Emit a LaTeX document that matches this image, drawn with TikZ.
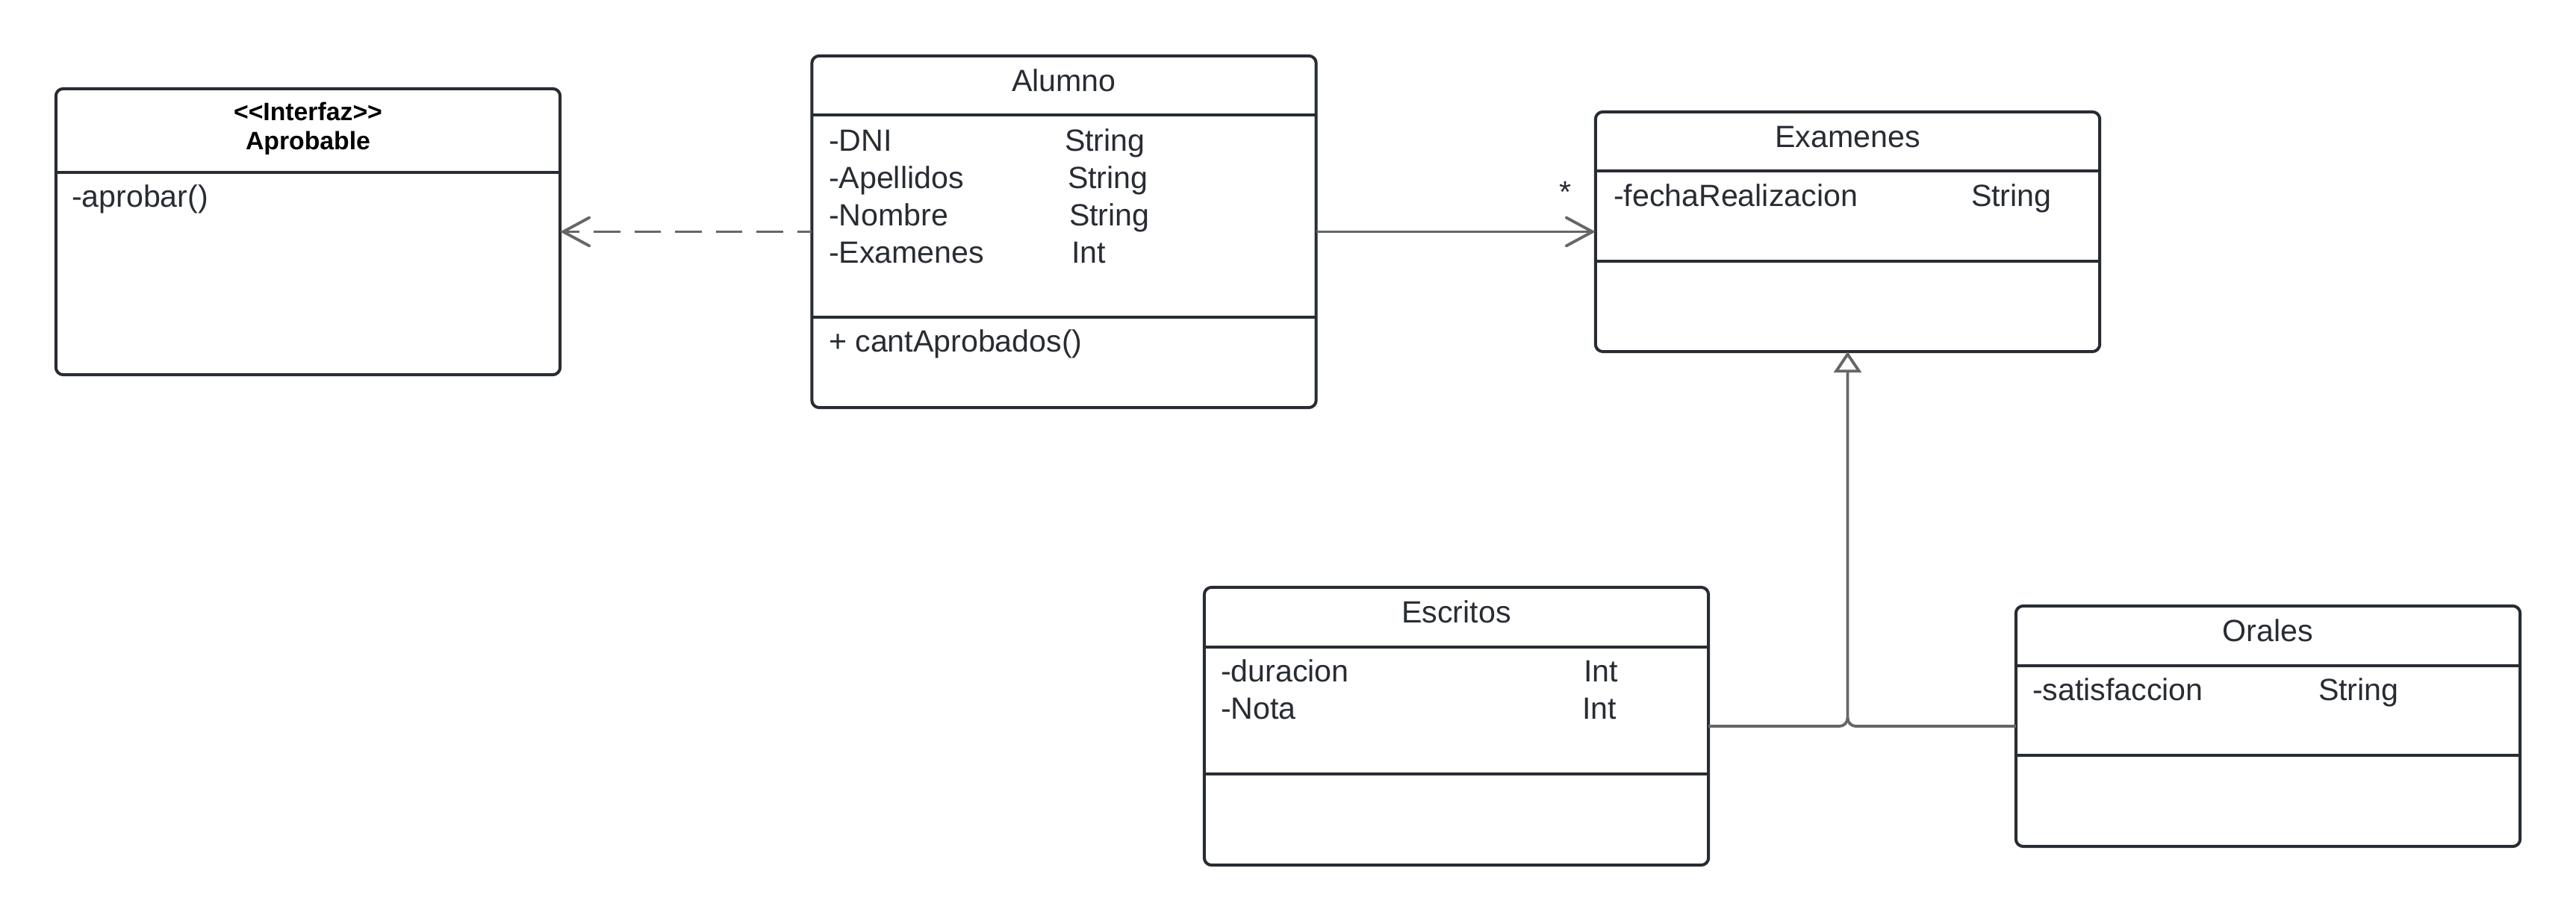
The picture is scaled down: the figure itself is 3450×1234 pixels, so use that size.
\documentclass[tikz,border=0pt]{standalone}
\usepackage{fontspec}
\setmainfont{Liberation Sans}
\usetikzlibrary{arrows.meta,calc}

\definecolor{boxline}{HTML}{282C33}
\definecolor{textcol}{HTML}{282C33}
\definecolor{connline}{HTML}{666666}

\tikzset{
  classbox/.style={draw=boxline, line width=1.14pt, rounded corners=2.8pt,
    fill=white, inner sep=0pt, outer sep=0pt, minimum width=6.75cm},
  divider/.style={draw=boxline, line width=1.14pt},
  txt/.style={inner sep=0pt, outer sep=0pt, text=textcol,
    font=\fontsize{11.7pt}{14pt}\selectfont},
  attr/.style={txt, anchor=base west},
  ctitle/.style={txt, anchor=base},
  stereo/.style={inner sep=0pt, outer sep=0pt, text=black, anchor=base,
    font=\fontsize{9.6pt}{12pt}\selectfont\bfseries},
  conn/.style={draw=connline, line width=1.1pt},
  openarrow/.style={-{Straight Barb[length=10pt, width=10.8pt, line cap=round]}},
  inherit/.style={-{Triangle[open, length=8pt, width=10.5pt, fill=white]}},
}

\begin{document}
\begin{tikzpicture}[x=0.01cm, y=-0.01cm]
  \useasboundingbox (0,0) rectangle (3450,1234);

  % ---- class boxes ----
  \node[classbox, minimum height=3.83cm] (aprobable) at (412.5,310.5) {};
  \node[classbox, minimum height=4.71cm] (alumno)    at (1425,310.5) {};
  \node[classbox, minimum height=3.21cm] (examenes)  at (2474.5,310.5) {};
  \node[classbox, minimum height=3.72cm] (escritos)  at (1950.5,973) {};
  \node[classbox, minimum height=3.22cm] (orales)    at (3037.5,973) {};

  % ---- compartment separators ----
  \draw[divider] (aprobable.west |- 0,231) -- (aprobable.east |- 0,231);
  \draw[divider] (alumno.west |- 0,154) -- (alumno.east |- 0,154);
  \draw[divider] (alumno.west |- 0,425) -- (alumno.east |- 0,425);
  \draw[divider] (examenes.west |- 0,229) -- (examenes.east |- 0,229);
  \draw[divider] (examenes.west |- 0,350) -- (examenes.east |- 0,350);
  \draw[divider] (escritos.west |- 0,867) -- (escritos.east |- 0,867);
  \draw[divider] (escritos.west |- 0,1037) -- (escritos.east |- 0,1037);
  \draw[divider] (orales.west |- 0,892) -- (orales.east |- 0,892);
  \draw[divider] (orales.west |- 0,1012) -- (orales.east |- 0,1012);

  % ---- Aprobable ----
  \node[stereo] (apr-st) at (412.5,162) {<\kern0pt<Interfaz>\kern0pt>};
  \node[stereo] (apr-name) at (412.5,201) {Aprobable};
  \node[attr] (apr-m1) at (96,278) {-aprobar()};

  % ---- Alumno ----
  \node[ctitle] (alu-name) at (1425,123) {Alumno};
  \node[attr] (alu-a1) at (1110,203) {-DNI};
  \node[attr] (alu-a2) at (1110,253) {-Apellidos};
  \node[attr] (alu-a3) at (1110,303) {-Nombre};
  \node[attr] (alu-a4) at (1110,353) {-Examenes};
  \node[attr] (alu-t1) at (1426,203) {String};
  \node[attr] (alu-t2) at (1430,253) {String};
  \node[attr] (alu-t3) at (1432,303) {String};
  \node[attr] (alu-t4) at (1435,353) {Int};
  \node[attr] (alu-m1) at (1110,472) {+ cantAprobados()};

  % ---- Examenes ----
  \node[ctitle] (exa-name) at (2474.5,198) {Examenes};
  \node[attr] (exa-a1) at (2161,277) {-fechaRealizacion};
  \node[attr] (exa-t1) at (2640,277) {String};

  % ---- Escritos ----
  \node[ctitle] (esc-name) at (1950.5,835) {Escritos};
  \node[attr] (esc-a1) at (1635,914) {-duracion};
  \node[attr] (esc-a2) at (1635,964) {-Nota};
  \node[attr] (esc-t1) at (2121,914) {Int};
  \node[attr] (esc-t2) at (2119,964) {Int};

  % ---- Orales ----
  \node[ctitle] (ora-name) at (3037.5,860) {Orales};
  \node[attr] (ora-a1) at (2722,939) {-satisfaccion};
  \node[attr] (ora-t1) at (3105,939) {String};

  % ---- relations ----
  % realization: Alumno implements Aprobable
  \draw[conn, openarrow, dash pattern=on 10.2pt off 5.3pt, dash phase=4.6pt]
    (alumno.west) -- (aprobable.east);
  % association Alumno -> Examenes with multiplicity
  \draw[conn, openarrow] (alumno.east) -- (examenes.west);
  \node[txt, anchor=center] (mult) at (2096,257) {*};
  % generalization Escritos / Orales -> Examenes
  \coordinate (joint) at (escritos.east -| examenes.south);
  \draw[conn, inherit, rounded corners=0.11cm]
    (escritos.east) -- (joint) -- (examenes.south);
  \draw[conn, rounded corners=0.11cm]
    (orales.west) -- (joint) -- ($(joint)+(0,-11)$);
\end{tikzpicture}
\end{document}
